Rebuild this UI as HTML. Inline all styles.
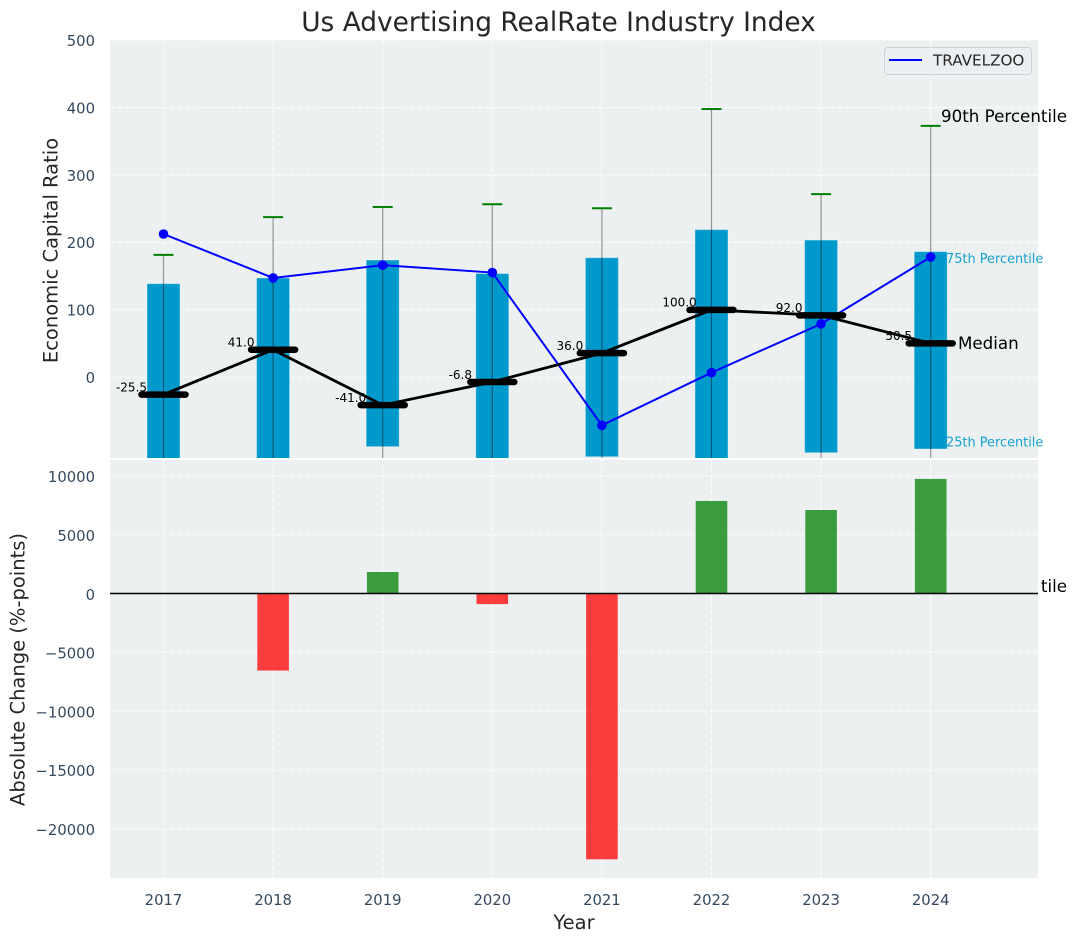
<!DOCTYPE html>
<html lang="en">
<head>
<meta charset="utf-8">
<title>Us Advertising RealRate Industry Index</title>
<style>
html,body{margin:0;padding:0;background:#fff;width:1076px;height:942px;overflow:hidden}
svg{display:block;font-family:"DejaVu Sans","Liberation Sans",sans-serif}
</style>
</head>
<body>
<svg id="chart" xmlns="http://www.w3.org/2000/svg" width="1076" height="942" viewBox="0 0 1076 942">
  <defs>
    <clipPath id="top-clip"><rect x="110" y="40" width="928" height="418"/></clipPath>
    <clipPath id="bottom-clip"><rect x="110" y="460" width="928" height="418"/></clipPath>
    <clipPath id="overflow-clip"><rect x="1039.6" y="560" width="36.4" height="50"/></clipPath>
  </defs>
  <rect width="1076" height="942" fill="#ffffff"/>
  <text x="558.5" y="31" font-size="26.4" text-anchor="middle" fill="#262626">Us Advertising RealRate Industry Index</text>
  <g id="top-panel">
    <rect x="110" y="40" width="928" height="418" fill="#ecf0f1"/>
  </g>
  <g id="bottom-panel">
    <rect x="110" y="460" width="928" height="418" fill="#ecf0f1"/>
  </g>
  <text transform="translate(57.5,250.5) rotate(-90)" font-size="19.5" text-anchor="middle" fill="#262626">Economic Capital Ratio</text>
  <text transform="translate(24.5,669.5) rotate(-90)" font-size="19.5" text-anchor="middle" fill="#262626">Absolute Change (%-points)</text>
  <text x="574" y="929" font-size="19.5" text-anchor="middle" fill="#262626">Year</text>
  <g>
    <rect x="884.5" y="47.5" width="147" height="27" rx="3.5" fill="#eceef2" fill-opacity="0.9" stroke="#cfd2d5" stroke-width="1"/>
    <line x1="889" y1="60" x2="922" y2="60" stroke="#0000ff" stroke-width="2"/>
    <text x="933" y="65.5" font-size="15.2" fill="#262626">TRAVELZOO</text>
  </g>
</svg>
<script>
const years = [2017, 2018, 2019, 2020, 2021, 2022, 2023, 2024];
const topTicks = [0, 100, 200, 300, 400, 500];
const bottomTicks = [10000, 5000, 0, -5000, -10000, -15000, -20000];
const p10 = [-190, -200, -210, -195, -205, -215, -190, -200];
const p25 = [-125, -125, -102.6, -125, -117.6, -125, -111.6, -106.1];
const p50 = [-25.5, 41, -41, -6.8, 36, 100, 92, 50.5];
const p75 = [138.9, 147.4, 173.9, 153.9, 177.4, 219, 203.5, 186.4];
const p90 = [181.5, 237.6, 252.6, 256.6, 250.6, 397.8, 271.6, 372.8];
const travelzoo = [212.5, 147.4, 166.4, 155.4, -71, 7.1, 79.3, 178.4];
const changes = [null, -6550, 1830, -900, -22600, 7870, 7100, 9740];
const medianLabels = ['-25.5', '41.0', '-41.0', '-6.8', '36.0', '100.0', '92.0', '50.5'];

const NS = 'http://www.w3.org/2000/svg';
const chart = document.getElementById('chart');
const topPanel = document.getElementById('top-panel');
const bottomPanel = document.getElementById('bottom-panel');
const xAt = v => 163.5 + (v - 2017) * 109.6;
const yTop = v => 377.4 - v * 0.6748;
const yBottom = v => 593.5 - v * 0.01176;

function make(tag, parent, attrs, text) {
  const el = document.createElementNS(NS, tag);
  for (const k in attrs) el.setAttribute(k, attrs[k]);
  if (text !== undefined) el.textContent = text;
  parent.appendChild(el);
  return el;
}
const gridStyle = {stroke: '#ffffff', 'stroke-width': 1, 'stroke-dasharray': '5 2.5', 'stroke-opacity': 0.9};
const tickStyle = {'font-size': 14.8, fill: '#34495e'};

// top grid + y ticks
topTicks.forEach(t => {
  const g = make('line', topPanel, {x1: 110, x2: 1038, y1: yTop(t), y2: yTop(t), ...gridStyle});
  
  
  const l = make('text', topPanel, {x: 95, y: yTop(t) + 5.8, 'text-anchor': 'end', ...tickStyle}, String(t));
  
  
});
years.forEach(y => {
  const g = make('line', topPanel, {x1: xAt(y), x2: xAt(y), y1: 40, y2: 458, ...gridStyle});
  
  
});

const topClip = make('g', topPanel, {'clip-path': 'url(#top-clip)'});



// interquartile bars
years.forEach((y, i) => {
  const b = make('rect', topClip, {
    x: xAt(y) - 16.5, y: yTop(p75[i]), width: 33,
    height: yTop(p25[i]) - yTop(p75[i]),
    fill: '#0099cc', stroke: '#ffffff', 'stroke-opacity': 0.35, 'stroke-width': 1
  });
  
  
});
// whiskers and caps
years.forEach((y, i) => {
  const w = make('line', topClip, {x1: xAt(y), x2: xAt(y), y1: yTop(p90[i]), y2: yTop(p10[i]), stroke: '#000000', 'stroke-opacity': 0.4, 'stroke-width': 1.2});
  
  
  const c = make('line', topClip, {x1: xAt(y) - 10, x2: xAt(y) + 10, y1: yTop(p90[i]), y2: yTop(p90[i]), stroke: '#008000', 'stroke-width': 2});
  
  
});
// TRAVELZOO series
const blue = make('polyline', topClip, {
  points: years.map((y, i) => xAt(y) + ',' + yTop(travelzoo[i])).join(' '),
  fill: 'none', stroke: '#0000ff', 'stroke-width': 2
});


years.forEach((y, i) => {
  const p = make('circle', topClip, {cx: xAt(y), cy: yTop(travelzoo[i]), r: 4.8, fill: '#0000ff'});
  
  
});
// median line
const med = make('polyline', topClip, {
  points: years.map((y, i) => xAt(y) + ',' + yTop(p50[i])).join(' '),
  fill: 'none', stroke: '#000000', 'stroke-width': 2.8
});


years.forEach((y, i) => {
  const s = make('line', topClip, {x1: xAt(y) - 22, x2: xAt(y) + 22, y1: yTop(p50[i]), y2: yTop(p50[i]), stroke: '#000000', 'stroke-width': 6.5, 'stroke-linecap': 'round'});
  
  
});
years.forEach((y, i) => {
  const t = make('text', topPanel, {x: xAt(y) - 32, y: yTop(p50[i]) - 3.2, 'font-size': 12, 'text-anchor': 'middle', fill: '#000000'}, medianLabels[i]);
  
  
});
// annotations for last year
const last = years.length - 1;
const a90 = make('text', topPanel, {x: 941, y: yTop(p90[last]) - 4, 'font-size': 16.7, fill: '#000000'}, '90th Percentile');


const a75 = make('text', topPanel, {x: 946, y: yTop(p75[last]) + 11.5, 'font-size': 12.9, fill: '#0099cc', 'fill-opacity': 0.9}, '75th Percentile');


const a50 = make('text', topPanel, {x: 958, y: yTop(p50[last]) + 5.5, 'font-size': 16.7, fill: '#000000'}, 'Median');


const a25 = make('text', topPanel, {x: 946, y: yTop(p25[last]) - 2.5, 'font-size': 12.9, fill: '#0099cc', 'fill-opacity': 0.9}, '25th Percentile');


const a10 = make('text', chart, {x: 941, y: 592, 'font-size': 16.7, fill: '#000000', 'clip-path': 'url(#overflow-clip)'}, '10th Percentile');



// bottom panel
bottomTicks.forEach(t => {
  const g = make('line', bottomPanel, {x1: 110, x2: 1038, y1: yBottom(t), y2: yBottom(t), ...gridStyle});
  
  
  const l = make('text', bottomPanel, {x: 95, y: yBottom(t) + 6.3, 'text-anchor': 'end', ...tickStyle}, String(t).replace('-', '\u2212'));
  
  
});
years.forEach(y => {
  const g = make('line', bottomPanel, {x1: xAt(y), x2: xAt(y), y1: 460, y2: 878, ...gridStyle});
  
  
  const l = make('text', bottomPanel, {x: xAt(y), y: 905, 'text-anchor': 'middle', ...tickStyle}, String(y));
  
  
});
const bottomClip = make('g', bottomPanel, {'clip-path': 'url(#bottom-clip)'});


years.forEach((y, i) => {
  if (changes[i] === null) return;
  const v = changes[i];
  const b = make('rect', bottomClip, {
    x: xAt(y) - 15.8, y: Math.min(yBottom(v), yBottom(0)), width: 31.6,
    height: Math.abs(yBottom(v) - yBottom(0)),
    fill: v >= 0 ? '#008000' : '#ff0000', 'fill-opacity': 0.75
  });
  
  
});
const zero = make('line', bottomClip, {x1: 110, x2: 1038, y1: yBottom(0), y2: yBottom(0), stroke: '#000000', 'stroke-width': 1.4});


</script>
</body>
</html>
